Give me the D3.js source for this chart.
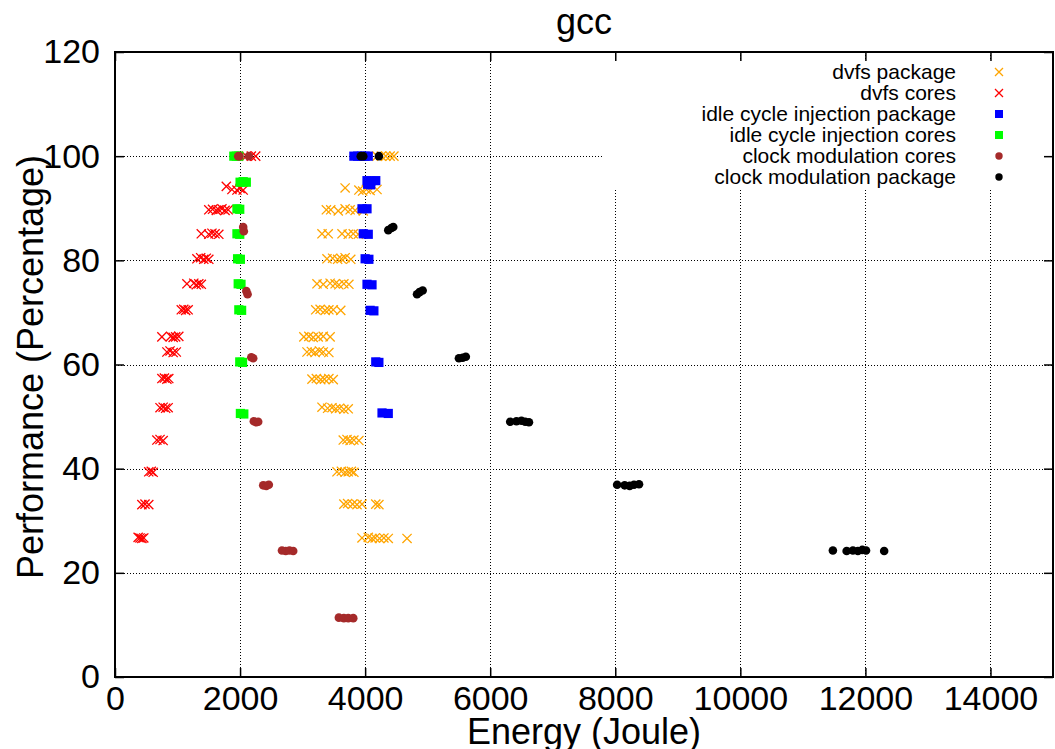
<!DOCTYPE html>
<html>
<head>
<meta charset="utf-8">
<script src="https://cdn.jsdelivr.net/npm/d3@7"></script>
<style>
  body { margin: 0; background: #fff; }
  svg { display: block; font-family: "Liberation Sans", Arial, Helvetica, sans-serif; }
</style>
</head>
<body>
<svg id="chart"></svg>
<script>
// Data: [energy (J), performance (%)]
var dvfsPackage = [
    [4190,100],[4260,100],[4330,100],[4400,100],[4460,100],
    [3680,93.9],[3900,93.5],[3960,93.3],[4020,93.6],[4080,93.4],[4190,93.6],
    [3380,89.7],[3450,89.7],[3570,89.5],[3680,89.9],[3760,89.7],[3840,89.6],[3970,89.5],
    [3310,85.1],[3410,85.1],[3630,85.1],[3730,85.0],[3810,85.1],[3890,85.0],
    [3390,80.3],[3480,80.4],[3560,80.2],[3620,80.3],[3680,80.5],[3770,80.2],
    [3230,75.5],[3330,75.4],[3440,75.6],[3520,75.5],[3580,75.3],[3660,75.5],[3740,75.4],
    [3210,70.5],[3280,70.6],[3360,70.4],[3420,70.5],[3490,70.5],[3610,70.4],
    [3020,65.3],[3100,65.4],[3170,65.2],[3250,65.3],[3330,65.4],[3440,65.3],
    [3070,62.4],[3140,62.5],[3200,62.3],[3270,62.6],[3330,62.4],[3420,62.3],
    [3150,57.2],[3220,57.3],[3290,57.1],[3350,57.2],[3420,57.3],[3490,57.1],
    [3310,51.8],[3400,51.6],[3470,51.7],[3530,51.5],[3590,51.6],[3660,51.4],[3730,51.5],
    [3650,45.5],[3710,45.6],[3760,45.4],[3820,45.5],[3900,45.4],
    [3550,39.4],[3620,39.5],[3680,39.3],[3730,39.4],[3780,39.5],[3820,39.3],
    [3660,33.2],[3720,33.3],[3800,33.2],[3870,33.1],[3950,33.2],[4170,33.2],[4220,33.1],
    [3950,26.7],[4050,26.8],[4110,26.6],[4160,26.7],[4230,26.6],[4300,26.7],[4370,26.6],[4670,26.6]
];

var dvfsCores = [
    [2100,100],[2180,100],[2250,100],
    [1780,94.2],[1870,93.6],[1950,93.5],[2000,93.8],[2050,93.5],
    [1500,89.7],[1560,89.8],[1620,89.6],[1660,89.7],[1710,89.9],[1760,89.6],[1810,89.7],
    [1380,85.1],[1500,85.0],[1550,85.2],[1600,85.1],[1660,85.0],
    [1310,80.3],[1370,80.5],[1420,80.2],[1460,80.4],[1500,80.2],
    [1150,75.5],[1260,75.6],[1300,75.3],[1340,75.5],[1380,75.4],
    [1060,70.5],[1100,70.6],[1130,70.4],[1170,70.5],
    [750,65.3],[890,65.4],[930,65.2],[970,65.3],[1020,65.4],
    [830,62.4],[880,62.6],[930,62.3],[980,62.4],
    [750,57.3],[790,57.4],[830,57.2],[860,57.3],
    [720,51.7],[770,51.8],[810,51.6],[850,51.7],
    [670,45.5],[720,45.6],[770,45.4],
    [540,39.4],[580,39.5],[610,39.3],
    [430,33.1],[480,33.2],[540,33.1],
    [370,26.8],[400,26.7],[430,26.6],[460,26.7]
];

var idlePackage = [
    [3820,100],[3880,100],[3940,100],[4000,100],[4050,100],
    [4030,95.3],[4090,95.2],[4170,95.3],[4040,94.6],[4090,94.5],
    [3950,89.9],[4030,89.9],
    [3970,85.1],[4050,85.0],
    [4000,80.3],[4060,80.2],
    [4030,75.4],[4110,75.3],
    [4080,70.4],[4140,70.3],
    [4170,60.5],[4220,60.4],
    [4270,50.7],[4370,50.6]
];

var idleCores = [
    [1900,100],[1940,100],[1980,100],
    [2000,95.0],[2050,95.1],[2100,95.0],
    [1950,89.9],[1995,89.8],
    [1950,85.1],[1995,85.0],
    [1960,80.3],[2005,80.2],
    [1970,75.5],[2015,75.4],
    [1980,70.5],[2025,70.4],
    [1995,60.5],[2040,60.4],
    [2005,50.6],[2060,50.5]
];

var clockCores = [
    [1970,100],[1990,100],[2140,100],
    [2050,86.4],[2060,85.6],
    [2100,74.1],[2120,73.5],
    [2180,61.4],[2210,61.2],
    [2220,49.1],[2260,48.9],[2290,49.0],
    [2370,36.8],[2420,36.7],[2460,36.9],
    [2670,24.3],[2730,24.2],[2790,24.3],[2850,24.2],
    [3580,11.4],[3660,11.3],[3730,11.3],[3810,11.3]
];

var clockPackage = [
    [3930,100],[3970,100],[4220,100],
    [4370,85.8],[4420,86.2],[4450,86.4],
    [4830,73.5],[4870,73.9],[4920,74.2],
    [5500,61.2],[5560,61.3],[5610,61.5],
    [6320,49.0],[6420,49.1],[6500,49.2],[6560,49.0],[6620,48.9],
    [8030,36.9],[8150,36.8],[8230,36.7],[8300,36.9],[8380,37.0],
    [11480,24.3],[11700,24.2],[11800,24.3],[11880,24.2],[11950,24.4],[12010,24.3],[12300,24.2]
];

var xTicks = [0, 2000, 4000, 6000, 8000, 10000, 12000, 14000];
var yTicks = [0, 20, 40, 60, 80, 100, 120];

// series table, in gnuplot draw order
var series = [
    {name: "dvfs package", data: dvfsPackage, shape: "cross", color: "#ffa500"},
    {name: "dvfs cores", data: dvfsCores, shape: "cross", color: "#ff0000"},
    {name: "idle cycle injection package", data: idlePackage, shape: "square", color: "#0000ff"},
    {name: "idle cycle injection cores", data: idleCores, shape: "square", color: "#00ff00"},
    {name: "clock modulation cores", data: clockCores, shape: "circle", color: "#a52a2a"},
    {name: "clock modulation package", data: clockPackage, shape: "circle", color: "#000000"}
];

var W = 1055, H = 749;
var L = 115, R = 1053, T = 52, B = 677;
var TICK = 9;

var svg = d3.select("#chart").attr("width", W).attr("height", H);

var x = d3.scaleLinear().domain([0, 15000]).range([L, R]);
var y = d3.scaleLinear().domain([0, 120]).range([B, T]);

// grid ---->
var grid = svg.append("g").attr("class", "grid")
    .attr("stroke", "#000").attr("stroke-width", 1)
    .attr("stroke-dasharray", "1,2").attr("shape-rendering", "crispEdges");
grid.selectAll(".gx").data(xTicks.slice(1)).enter().append("line")
    .attr("x1", function(d) { return Math.round(x(d)) + 0.5; })
    .attr("x2", function(d) { return Math.round(x(d)) + 0.5; })
    .attr("y1", T).attr("y2", B);
grid.selectAll(".gy").data(yTicks.slice(1, -1)).enter().append("line")
    .attr("y1", function(d) { return Math.round(y(d)) + 0.5; })
    .attr("y2", function(d) { return Math.round(y(d)) + 0.5; })
    .attr("x1", L).attr("x2", R);
// <---- grid

// opaque key background hides the grid behind it
svg.append("rect").attr("x", 603).attr("y", 61).attr("width", R - 603 - 1).attr("height", 128)
    .attr("fill", "#fff");

function drawMark(g, shape, color, cx, cy, small) {
    if (shape === "cross") {
        var s = small ? 4 : 4.6;
        g.append("path")
            .attr("d", "M" + (cx - s) + "," + (cy - s) + "L" + (cx + s) + "," + (cy + s) +
                       "M" + (cx - s) + "," + (cy + s) + "L" + (cx + s) + "," + (cy - s))
            .attr("stroke", color).attr("stroke-width", 1.3).attr("fill", "none");
    } else if (shape === "square") {
        var h = small ? 4 : 4.6;
        g.append("rect").attr("x", cx - h).attr("y", cy - h)
            .attr("width", 2 * h).attr("height", 2 * h).attr("fill", color);
    } else {
        g.append("circle").attr("cx", cx).attr("cy", cy).attr("r", small ? 3.7 : 4.3).attr("fill", color);
    }
}

// points
series.forEach(function(s) {
    var g = svg.append("g").attr("class", "series");
    s.data.forEach(function(d) {
        drawMark(g, s.shape, s.color, x(d[0]), y(d[1]), false);
    });
});

// axes: inward ticks, mirrored on top and right
var fontSize = 34;
svg.append("g").attr("transform", "translate(0," + B + ")")
    .call(d3.axisBottom(x).tickValues(xTicks).tickFormat(d3.format("d"))
        .tickSize(-TICK).tickPadding(9).tickSizeOuter(0));
svg.append("g").attr("transform", "translate(" + L + ",0)")
    .call(d3.axisLeft(y).tickValues(yTicks).tickFormat(d3.format("d"))
        .tickSize(-TICK).tickPadding(15).tickSizeOuter(0));
svg.append("g").attr("transform", "translate(0," + T + ")")
    .call(d3.axisTop(x).tickValues(xTicks).tickSize(-TICK).tickFormat("").tickSizeOuter(0));
svg.append("g").attr("transform", "translate(" + R + ",0)")
    .call(d3.axisRight(y).tickValues(yTicks).tickSize(-TICK).tickFormat("").tickSizeOuter(0));

svg.selectAll(".domain").remove();
svg.selectAll(".tick line").attr("stroke", "#000").attr("stroke-width", 1.5);
svg.selectAll(".tick text").attr("fill", "#000")
    .style("font-size", fontSize + "px")
    .style("font-family", "'Liberation Sans', Arial, sans-serif");

// frame
svg.append("rect").attr("x", L).attr("y", T).attr("width", R - L).attr("height", B - T)
    .attr("fill", "none").attr("stroke", "#000").attr("stroke-width", 2);

// titles
svg.append("text").attr("x", (L + R) / 2).attr("y", 34)
    .attr("text-anchor", "middle").style("font-size", "36px").text("gcc");
svg.append("text").attr("x", (L + R) / 2).attr("y", 744)
    .attr("text-anchor", "middle").style("font-size", "36px").text("Energy (Joule)");
svg.append("text").attr("transform", "translate(43,367) rotate(-90)")
    .attr("text-anchor", "middle").style("font-size", "36px").text("Performance (Percentage)");

// key
var key = svg.append("g").attr("class", "key");
series.forEach(function(s, i) {
    var ky = 72 + i * 21;
    key.append("text").attr("x", 956).attr("y", ky).attr("dy", "0.35em")
        .attr("text-anchor", "end").style("font-size", "21px").text(s.name);
    drawMark(key, s.shape, s.color, 999, ky, true);
});
</script>
</body>
</html>
